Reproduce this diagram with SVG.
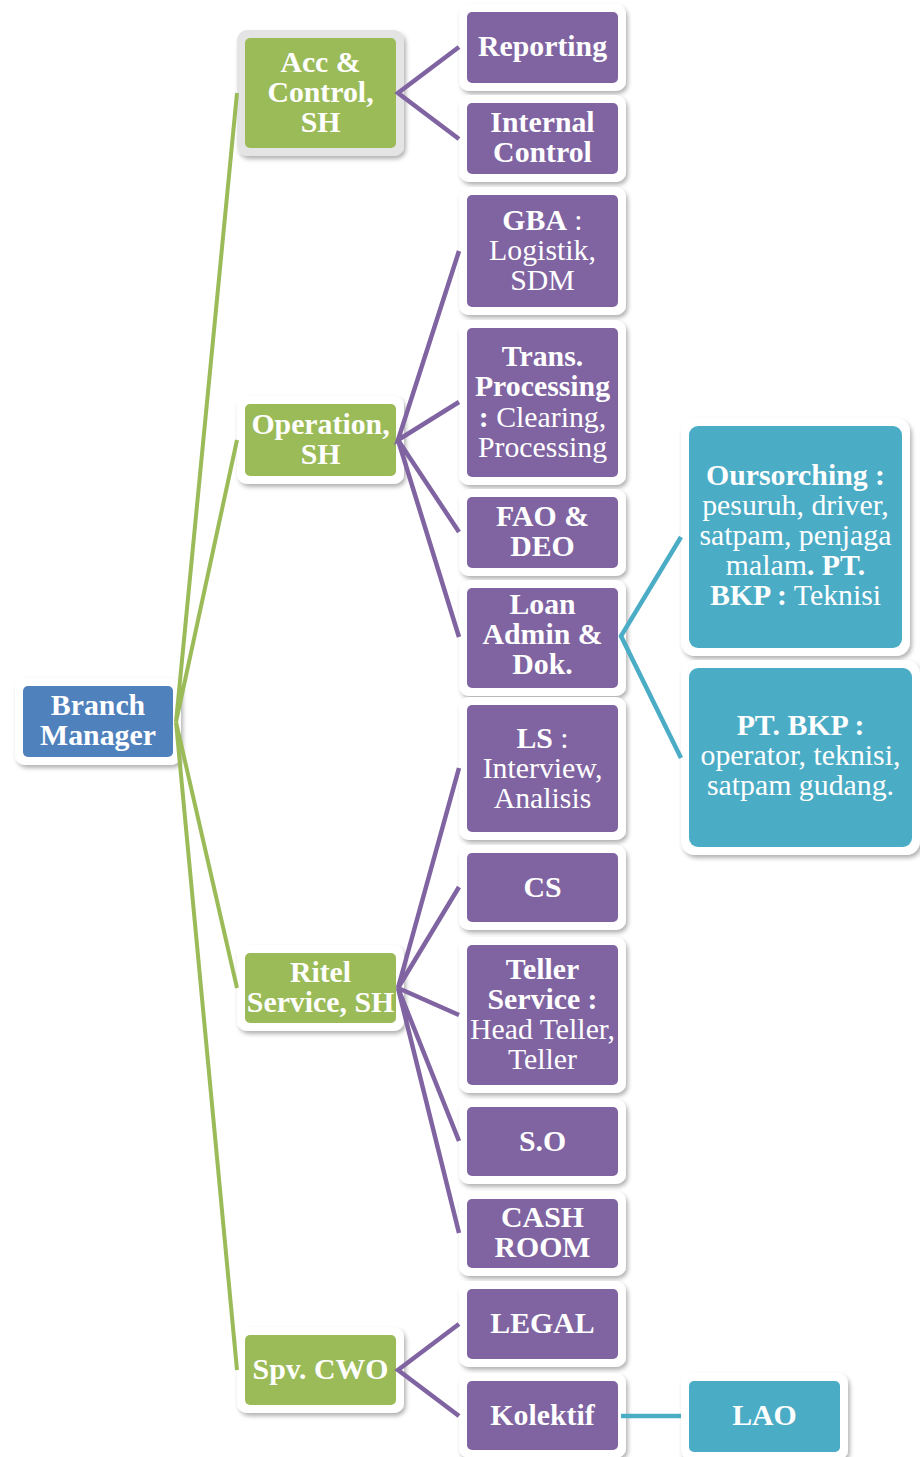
<svg xmlns="http://www.w3.org/2000/svg" width="920" height="1457" viewBox="0 0 920 1457">
<defs>
<filter id="sh" x="-10%" y="-10%" width="125%" height="130%">
<feDropShadow dx="2" dy="3" stdDeviation="2" flood-color="#000" flood-opacity="0.3"/>
</filter>
</defs>
<style>
.frame{fill:#fff;filter:url(#sh)}
.frame.sel{fill:#e4e4e4}
.blue{fill:#4f81bd}
.green{fill:#9bbb59}
.purple{fill:#8064a2}
.teal{fill:#4bacc6}
text{font-family:"Liberation Serif","Times New Roman",serif;font-size:29.8px;fill:#fff;text-anchor:middle}
.b{font-weight:bold}
.gl{stroke:#9bbb59;stroke-width:4;fill:none}
.pl{stroke:#8064a2;stroke-width:4.5;fill:none}
.tl{stroke:#4bacc6;stroke-width:4.5;fill:none}
</style>
<g id="branch-manager"><rect class="frame" x="15" y="678" width="166" height="87" rx="10"/><rect class="blue" x="23" y="686" width="150" height="71" rx="5"/><text class="b" x="98" y="715">Branch</text><text class="b" x="98" y="745">Manager</text></g>
<g id="acc-control"><rect class="frame sel" x="237" y="30" width="167" height="126" rx="10"/><rect class="green" x="245" y="38" width="151" height="110" rx="5"/><text class="b" x="320.5" y="72">Acc &amp;</text><text class="b" x="320.5" y="102">Control,</text><text class="b" x="320.5" y="132">SH</text></g>
<g id="operation"><rect class="frame" x="237" y="396" width="167" height="88" rx="10"/><rect class="green" x="245" y="404" width="151" height="72" rx="5"/><text class="b" x="320.5" y="434">Operation,</text><text class="b" x="320.5" y="464">SH</text></g>
<g id="ritel"><rect class="frame" x="237" y="945" width="167" height="86" rx="10"/><rect class="green" x="245" y="953" width="151" height="70" rx="5"/><text class="b" x="320.5" y="982">Ritel</text><text class="b" x="320.5" y="1012">Service, SH</text></g>
<g id="spv-cwo"><rect class="frame" x="237" y="1327" width="167" height="86" rx="10"/><rect class="green" x="245" y="1335" width="151" height="70" rx="5"/><text class="b" x="320.5" y="1379">Spv. CWO</text></g>
<g id="reporting"><rect class="frame" x="459" y="4" width="167" height="87" rx="10"/><rect class="purple" x="467" y="12" width="151" height="71" rx="5"/><text class="b" x="542.5" y="56">Reporting</text></g>
<g id="internal-control"><rect class="frame" x="459" y="95" width="167" height="87" rx="10"/><rect class="purple" x="467" y="103" width="151" height="71" rx="5"/><text class="b" x="542.5" y="132">Internal</text><text class="b" x="542.5" y="162">Control</text></g>
<g id="gba"><rect class="frame" x="459" y="187" width="167" height="128" rx="10"/><rect class="purple" x="467" y="195" width="151" height="112" rx="5"/><text x="542.5" y="230"><tspan class="b">GBA</tspan> :</text><text x="542.5" y="260">Logistik,</text><text x="542.5" y="290">SDM</text></g>
<g id="trans-processing"><rect class="frame" x="459" y="320" width="167" height="165" rx="10"/><rect class="purple" x="467" y="328" width="151" height="149" rx="5"/><text class="b" x="542.5" y="366">Trans.</text><text class="b" x="542.5" y="396">Processing</text><text x="542.5" y="427"><tspan class="b">:</tspan> Clearing,</text><text x="542.5" y="457">Processing</text></g>
<g id="fao-deo"><rect class="frame" x="459" y="489" width="167" height="87" rx="10"/><rect class="purple" x="467" y="497" width="151" height="71" rx="5"/><text class="b" x="542.5" y="526">FAO &amp;</text><text class="b" x="542.5" y="556">DEO</text></g>
<g id="loan-admin"><rect class="frame" x="459" y="580" width="167" height="116" rx="10"/><rect class="purple" x="467" y="588" width="151" height="100" rx="5"/><text class="b" x="542.5" y="614">Loan</text><text class="b" x="542.5" y="644">Admin &amp;</text><text class="b" x="542.5" y="674">Dok.</text></g>
<g id="ls"><rect class="frame" x="459" y="697" width="167" height="143" rx="10"/><rect class="purple" x="467" y="705" width="151" height="127" rx="5"/><text x="542.5" y="748"><tspan class="b">LS</tspan> :</text><text x="542.5" y="778">Interview,</text><text x="542.5" y="808">Analisis</text></g>
<g id="cs"><rect class="frame" x="459" y="845" width="167" height="85" rx="10"/><rect class="purple" x="467" y="853" width="151" height="69" rx="5"/><text class="b" x="542.5" y="897">CS</text></g>
<g id="teller"><rect class="frame" x="459" y="937" width="167" height="156" rx="10"/><rect class="purple" x="467" y="945" width="151" height="140" rx="5"/><text class="b" x="542.5" y="979">Teller</text><text class="b" x="542.5" y="1009">Service :</text><text x="542.5" y="1039">Head Teller,</text><text x="542.5" y="1069">Teller</text></g>
<g id="so"><rect class="frame" x="459" y="1099" width="167" height="85" rx="10"/><rect class="purple" x="467" y="1107" width="151" height="69" rx="5"/><text class="b" x="542.5" y="1151">S.O</text></g>
<g id="cash-room"><rect class="frame" x="459" y="1191" width="167" height="85" rx="10"/><rect class="purple" x="467" y="1199" width="151" height="69" rx="5"/><text class="b" x="542.5" y="1227">CASH</text><text class="b" x="542.5" y="1257">ROOM</text></g>
<g id="legal"><rect class="frame" x="459" y="1281" width="167" height="86" rx="10"/><rect class="purple" x="467" y="1289" width="151" height="70" rx="5"/><text class="b" x="542.5" y="1333">LEGAL</text></g>
<g id="kolektif"><rect class="frame" x="459" y="1373" width="167" height="85" rx="10"/><rect class="purple" x="467" y="1381" width="151" height="69" rx="5"/><text class="b" x="542.5" y="1425">Kolektif</text></g>
<g id="oursorching"><rect class="frame" x="681" y="418" width="229" height="238" rx="14"/><rect class="teal" x="689" y="426" width="213" height="222" rx="9"/><text class="b" x="795.5" y="485">Oursorching :</text><text x="795.5" y="515">pesuruh, driver,</text><text x="795.5" y="545">satpam, penjaga</text><text x="795.5" y="575">malam<tspan class="b">. PT.</tspan></text><text x="795.5" y="605"><tspan class="b">BKP :</tspan> Teknisi</text></g>
<g id="pt-bkp"><rect class="frame" x="681" y="660" width="239" height="195" rx="14"/><rect class="teal" x="689" y="668" width="223" height="179" rx="9"/><text class="b" x="800.5" y="735">PT. BKP :</text><text x="800.5" y="765">operator, teknisi,</text><text x="800.5" y="795">satpam gudang.</text></g>
<g id="lao"><rect class="frame" x="681" y="1373" width="167" height="87" rx="10"/><rect class="teal" x="689" y="1381" width="151" height="71" rx="5"/><text class="b" x="764.5" y="1425">LAO</text></g>
<g id="connectors">
<path class="gl" d="M237 93 L176 722 L237 440 M176 722 L237 988 M176 722 L237 1370"/>
<path class="pl" d="M459 47 L398 93 L459 139"/>
<path class="pl" d="M459 251 L398 440 L459 402 M398 440 L459 532 M398 440 L459 637"/>
<path class="pl" d="M459 768 L398 988 L459 887 M398 988 L459 1015 M398 988 L459 1141 M398 988 L459 1233"/>
<path class="pl" d="M459 1324 L398 1370 L459 1416"/>
<path class="tl" d="M681 537 L621 636 L681 758"/>
<path class="tl" d="M621 1416 L681 1416"/>
</g>
</svg>
